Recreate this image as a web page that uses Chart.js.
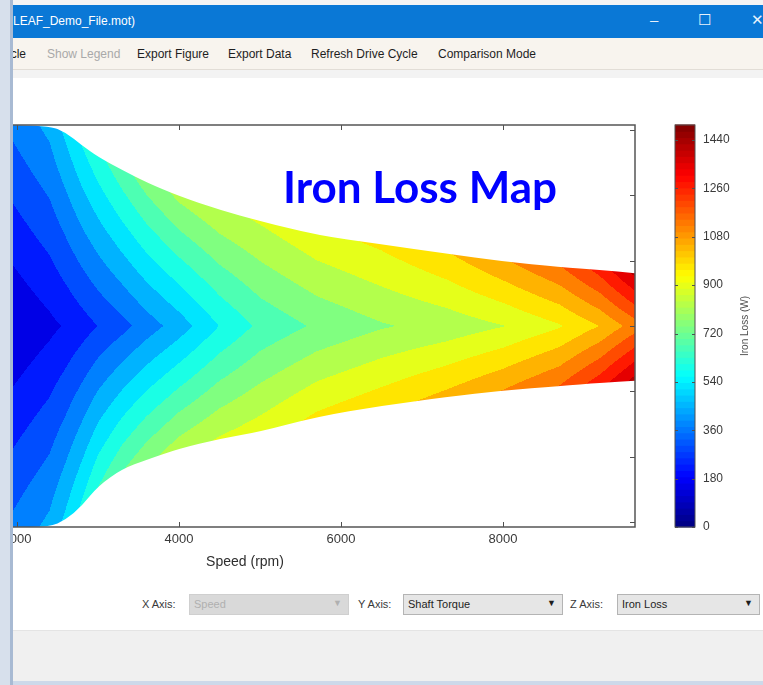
<!DOCTYPE html>
<html>
<head>
<meta charset="utf-8">
<title>Iron Loss Map</title>
<script src="https://cdn.jsdelivr.net/npm/chart.js@4.4.1/dist/chart.umd.min.js"></script>
<style>
  html, body { margin: 0; padding: 0; }
  body { width: 763px; height: 685px; overflow: hidden; position: relative; background: #ffffff;
         font-family: "Liberation Sans", Arial, sans-serif; }
  .abs { position: absolute; }
  #topgap { left: 0; top: 0; width: 763px; height: 5px; background: #f4f4f4; }
  #titlebar { left: 0; top: 5px; width: 763px; height: 33px; background: #0a78d6; color: #fff; }
  #titlebar .name { left: 13px; top: 9px; font-size: 12px; }
  #titlebar .ctl { top: 6px; font-size: 15px; color: #e8f1fb; }
  #toolbar { left: 0; top: 38px; width: 763px; height: 31px; background: #f8f4ee; border-bottom: 1px solid #e2ddd6; }
  #toolbar span { position: absolute; top: 9px; font-size: 12px; color: #1e1e1e; white-space: nowrap; }
  #toolbar span.off { color: #a9a9a9; }
  #bandgap { left: 0; top: 70px; width: 763px; height: 8px; background: #f3f3f3; }
  #plotwrap { left: 0; top: 78px; width: 763px; height: 552px; overflow: hidden; background: #fff; }
  #map { position: absolute; left: -230px; top: 2px; }
  #axisrow span.lbl { position: absolute; top: 598px; font-size: 11px; color: #3a3a3a; }
  .combo { position: absolute; top: 594px; height: 21px; box-sizing: border-box; border: 1px solid #b4b4b4;
           background: #e6e6e6; font-size: 11px; color: #1e1e1e; }
  .combo .txt { position: absolute; left: 4px; top: 3px; }
  .combo .arr { position: absolute; right: 6px; top: 3px; font-size: 9px; }
  .combo.dis { background: #d9d9d9; border-color: #cfcfcf; color: #b0b0b0; }
  #footer { left: 0; top: 630px; width: 763px; height: 51px; background: #f0f0f0; border-top: 1px solid #e4e4e4; }
  #footline { left: 0; top: 681px; width: 763px; height: 4px; background: #cdd9ea; }
  #edge { left: 0; top: 0; width: 10px; height: 685px; background: #d7e0ec; }
  #edgeline { left: 10px; top: 0; width: 3px; height: 685px; background: #a8bad3; }
  #maptitle { left: 283px; top: 166px; font-family: Lato, "Open Sans", sans-serif; font-weight: 700;
              font-size: 44px; line-height: 40px; color: #0000ff; white-space: nowrap; }
</style>
</head>
<body>
<div id="topgap" class="abs"></div>
<div id="titlebar" class="abs">
  <span class="abs name">LEAF_Demo_File.mot)</span>
  <span class="abs ctl" style="left:650px;">&#8211;</span>
  <span class="abs ctl" style="left:698px;">&#9744;</span>
  <span class="abs ctl" style="left:751px;">&#10005;</span>
</div>
<div id="toolbar" class="abs">
  <span style="left:-4px;">Cycle</span>
  <span class="off" style="left:47px;">Show Legend</span>
  <span style="left:137px;">Export Figure</span>
  <span style="left:228px;">Export Data</span>
  <span style="left:311px;">Refresh Drive Cycle</span>
  <span style="left:438px;">Comparison Mode</span>
</div>
<div id="bandgap" class="abs"></div>
<div id="plotwrap" class="abs">
  <canvas id="map" width="993" height="500"></canvas>
</div>
<div id="axisrow">
  <span class="lbl" style="left:142px;">X Axis:</span>
  <div class="combo dis" style="left:189px; width:160px;"><span class="txt">Speed</span><span class="arr">&#9660;</span></div>
  <span class="lbl" style="left:358px;">Y Axis:</span>
  <div class="combo" style="left:403px; width:160px;"><span class="txt">Shaft Torque</span><span class="arr">&#9660;</span></div>
  <span class="lbl" style="left:570px;">Z Axis:</span>
  <div class="combo" style="left:617px; width:143px;"><span class="txt">Iron Loss</span><span class="arr">&#9660;</span></div>
</div>
<div id="footer" class="abs"></div>
<div id="footline" class="abs"></div>
<div id="edge" class="abs"></div>
<div id="edgeline" class="abs"></div>
<div id="maptitle" class="abs">Iron Loss Map</div>

<script>
// Operating envelope and iron loss of the motor, by shaft speed (rpm)
const speeds          = [1900, 2400, 2600, 2800, 3000, 3300, 3600, 4000, 4500, 5000, 5700, 6500, 7300, 8000, 8700, 9200, 9630];
// Torque limits (Nm): motoring (upper) and generating (lower)
const torqueMax       = [308, 307, 297, 277, 259, 239, 220, 199, 178, 161, 139, 125, 111, 99, 90, 86, 81];
const torqueMin       = [-308, -308, -297, -276, -245, -219, -205, -188, -173, -162, -139, -122, -109, -99, -92, -87, -84];
// Iron loss (W) at zero torque, at the motoring limit and at the generating limit
const lossZeroTorque  = [145, 205, 232, 265, 300, 350, 410, 485, 600, 690, 760, 815, 850, 895, 965, 1050, 1160];
const lossAtMaxTorque = [385, 470, 540, 600, 650, 720, 780, 840, 880, 905, 950, 985, 1040, 1110, 1190, 1300, 1440];
const lossAtMinTorque = [385, 470, 540, 610, 670, 740, 800, 860, 905, 935, 985, 1020, 1070, 1125, 1200, 1310, 1450];

// Axis ticks and colour scale
const speedTicks  = [0, 2000, 4000, 6000, 8000];
const torqueTicks = [-300, -200, -100, 0, 100, 200, 300];
const lossTicks   = [0, 180, 360, 540, 720, 900, 1080, 1260, 1440];
const speedRange  = [0, 9630];
const torqueRange = [-308, 308];
const lossRange   = [0, 1496];
const contourLevels = 20;

// MATLAB-style jet colormap, t in [0, 1]
function jet(t) {
  const c = v => Math.max(0, Math.min(1, v));
  return [c(1.5 - Math.abs(4 * t - 3)), c(1.5 - Math.abs(4 * t - 2)), c(1.5 - Math.abs(4 * t - 1))]
    .map(v => Math.round(v * 255));
}

// piecewise-linear lookup of a per-speed quantity
function atSpeed(arr, s) {
  if (s <= speeds[0]) return arr[0];
  for (let i = 1; i < speeds.length; i++) {
    if (s <= speeds[i]) {
      const f = (s - speeds[i - 1]) / (speeds[i] - speeds[i - 1]);
      return arr[i - 1] + f * (arr[i] - arr[i - 1]);
    }
  }
  return arr[arr.length - 1];
}

// smooth path through a list of chart points (quadratic joins at mid-points)
function tracePath(ctx, pts, first) {
  pts.forEach((p, i) => {
    if (i === 0) { first ? ctx.moveTo(p.x, p.y) : ctx.lineTo(p.x, p.y); return; }
    if (i === pts.length - 1) { ctx.lineTo(p.x, p.y); return; }
    const n = pts[i + 1];
    ctx.quadraticCurveTo(p.x, p.y, (p.x + n.x) / 2, (p.y + n.y) / 2);
  });
}

// Filled contour bands inside the torque envelope
const contourFill = {
  id: 'contourFill',
  beforeDatasetsDraw(chart) {
    const { ctx, chartArea: a, scales: { x, y } } = chart;
    const x0 = Math.floor(a.left), y0 = Math.floor(a.top);
    const w = Math.ceil(a.right) - x0, h = Math.ceil(a.bottom) - y0;
    const off = document.createElement('canvas');
    off.width = w; off.height = h;
    const octx = off.getContext('2d');
    const img = octx.createImageData(w, h);
    const d = img.data;
    const step = (lossRange[1] - lossRange[0]) / contourLevels;
    for (let i = 0; i < w; i++) {
      const s = x.getValueForPixel(x0 + i + 0.5);
      if (s < speeds[0] - 100) continue;
      const tHi = atSpeed(torqueMax, s), tLo = atSpeed(torqueMin, s);
      const l0 = atSpeed(lossZeroTorque, s);
      const lHi = atSpeed(lossAtMaxTorque, s), lLo = atSpeed(lossAtMinTorque, s);
      for (let j = 0; j < h; j++) {
        const t = y.getValueForPixel(y0 + j + 0.5);
        const f = t >= 0 ? Math.min(t / tHi, 1.08) : Math.min(t / tLo, 1.08);
        const v = l0 + f * ((t >= 0 ? lHi : lLo) - l0);
        const k = Math.max(0, Math.min(contourLevels - 1, Math.floor((v - lossRange[0]) / step)));
        const rgb = jet(k / contourLevels);
        const p = (j * w + i) * 4;
        d[p] = rgb[0]; d[p + 1] = rgb[1]; d[p + 2] = rgb[2]; d[p + 3] = 255;
      }
    }
    octx.putImageData(img, 0, 0);
    const hi = chart.getDatasetMeta(0).data, lo = chart.getDatasetMeta(1).data;
    ctx.save();
    ctx.beginPath();
    tracePath(ctx, hi, true);
    tracePath(ctx, lo.slice().reverse(), false);
    ctx.closePath();
    ctx.clip();
    ctx.drawImage(off, x0, y0);
    ctx.restore();
  }
};

// Axes box with inward ticks, plus the colour bar
const frameAndColorbar = {
  id: 'frameAndColorbar',
  afterDraw(chart) {
    const { ctx, chartArea: a, scales: { x, y, z } } = chart;
    ctx.save();
    ctx.strokeStyle = '#505050';
    ctx.lineWidth = 1;
    ctx.beginPath();
    x.ticks.forEach(t => {
      const px = Math.round(x.getPixelForValue(t.value)) + 0.5;
      ctx.moveTo(px, a.top); ctx.lineTo(px, a.top + 5);
      ctx.moveTo(px, a.bottom); ctx.lineTo(px, a.bottom - 5);
    });
    y.ticks.forEach(t => {
      const py = Math.round(y.getPixelForValue(t.value)) + 0.5;
      ctx.moveTo(a.left, py); ctx.lineTo(a.left + 5, py);
      ctx.moveTo(a.right, py); ctx.lineTo(a.right - 5, py);
    });
    ctx.stroke();
    ctx.lineWidth = 1.5;
    ctx.strokeStyle = '#555555';
    ctx.strokeRect(a.left, a.top, a.right - a.left, a.bottom - a.top);

    // colour bar
    const bx = a.right + 40, bw = 20, n = 64;
    const span = lossRange[1] - lossRange[0];
    for (let k = 0; k < n; k++) {
      const yTop = z.getPixelForValue(lossRange[0] + (k + 1) * span / n);
      const yBot = z.getPixelForValue(lossRange[0] + k * span / n);
      ctx.fillStyle = 'rgb(' + jet((k + 0.5) / n).join(',') + ')';
      ctx.fillRect(bx, yTop - 0.5, bw, yBot - yTop + 1);
    }
    ctx.lineWidth = 1;
    ctx.strokeStyle = '#505050';
    ctx.strokeRect(bx, z.top, bw, z.bottom - z.top);
    ctx.beginPath();
    z.ticks.forEach(t => {
      const py = Math.round(z.getPixelForValue(t.value)) + 0.5;
      ctx.moveTo(bx, py); ctx.lineTo(bx + 3, py);
      ctx.moveTo(bx + bw, py); ctx.lineTo(bx + bw - 3, py);
    });
    ctx.stroke();

    // colour bar label
    ctx.translate(a.right + 110, (z.top + z.bottom) / 2);
    ctx.rotate(-Math.PI / 2);
    ctx.fillStyle = '#505050';
    ctx.font = '10px "Liberation Sans", Arial, sans-serif';
    ctx.textAlign = 'center';
    ctx.textBaseline = 'middle';
    ctx.fillText('Iron Loss (W)', 0, 0);
    ctx.restore();
  }
};

const tickFont = { family: '"Liberation Sans", Arial, sans-serif', size: 13 };
const fixedTicks = list => scale => { scale.ticks = list.map(value => ({ value })); };

new Chart(document.getElementById('map'), {
  type: 'scatter',
  data: {
    datasets: [
      { label: 'Motoring limit', data: speeds.map((s, i) => ({ x: s, y: torqueMax[i] })),
        showLine: true, borderWidth: 0, pointRadius: 0, borderColor: 'rgba(0,0,0,0)' },
      { label: 'Generating limit', data: speeds.map((s, i) => ({ x: s, y: torqueMin[i] })),
        showLine: true, borderWidth: 0, pointRadius: 0, borderColor: 'rgba(0,0,0,0)' }
    ]
  },
  options: {
    responsive: false,
    animation: false,
    events: [],
    layout: { autoPadding: false, padding: { left: 25, top: 45, right: 0, bottom: 0 } },
    plugins: { legend: { display: false }, tooltip: { enabled: false } },
    scales: {
      x: {
        type: 'linear', position: 'bottom', min: speedRange[0], max: speedRange[1],
        afterBuildTicks: fixedTicks(speedTicks),
        afterFit: s => { s.height = 53; },
        grid: { display: false, drawTicks: false }, border: { display: false },
        ticks: { padding: 5, color: '#3a3a3a', font: tickFont, callback: v => String(v), maxRotation: 0 },
        title: { display: true, text: 'Speed (rpm)', color: '#2e2e2e',
                 font: { family: '"Liberation Sans", Arial, sans-serif', size: 14 },
                 padding: { top: 0, bottom: 9 } }
      },
      y: {
        type: 'linear', position: 'left', min: torqueRange[0], max: torqueRange[1],
        afterBuildTicks: fixedTicks(torqueTicks),
        afterFit: s => { s.width = 60; },
        grid: { display: false, drawTicks: false }, border: { display: false },
        ticks: { padding: 3, color: '#3a3a3a', font: tickFont, callback: v => String(v) }
      },
      z: {
        type: 'linear', position: 'right', min: lossRange[0], max: lossRange[1],
        afterBuildTicks: fixedTicks(lossTicks),
        afterFit: s => { s.width = 128; },
        // the long transparent tick marks push the labels past the colour bar
        grid: { display: true, drawOnChartArea: false, drawTicks: true, tickLength: 68, color: 'rgba(0,0,0,0)' },
        border: { display: false },
        ticks: { padding: 0, color: '#3a3a3a', font: { family: '"Liberation Sans", Arial, sans-serif', size: 12 },
                 callback: v => String(v) }
      }
    }
  },
  plugins: [contourFill, frameAndColorbar]
});
</script>
</body>
</html>
